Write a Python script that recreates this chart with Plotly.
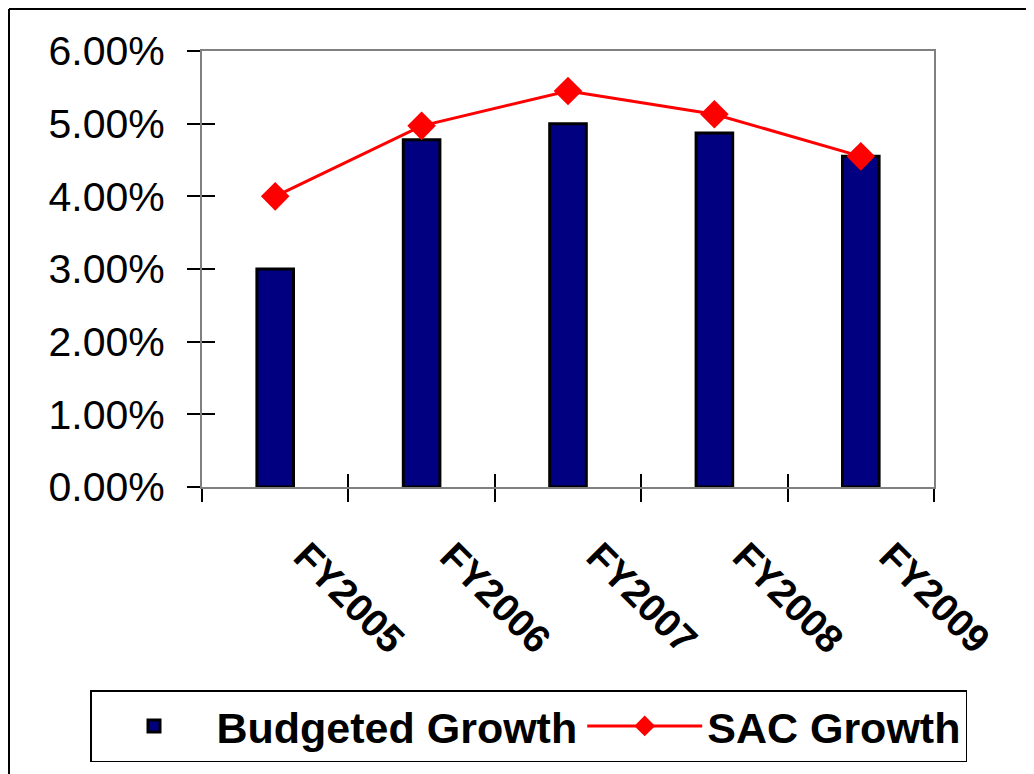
import plotly.graph_objects as go

categories = ["FY2005", "FY2006", "FY2007", "FY2008", "FY2009"]
budgeted_growth = [0.0300, 0.0478, 0.0500, 0.0487, 0.0455]
sac_growth = [0.0400, 0.0497, 0.0545, 0.0513, 0.0455]
y_ticks = [0.0, 0.01, 0.02, 0.03, 0.04, 0.05, 0.06]

FONT = "Liberation Sans, Arial, sans-serif"

fig = go.Figure()
fig.add_trace(go.Bar(
    x=categories, y=budgeted_growth, name="Budgeted Growth",
    marker=dict(color="#000080", line=dict(color="black", width=3)),
    width=0.25,
))
fig.add_trace(go.Scatter(
    x=categories, y=sac_growth, name="SAC Growth", mode="lines+markers",
    line=dict(color="#FF0000", width=3),
    marker=dict(symbol="diamond", size=22, color="#FF0000"),
))
# invisible helper trace for the inner half of the crossing tick marks
fig.add_trace(go.Scatter(
    x=categories, y=budgeted_growth, xaxis="x2", yaxis="y2",
    mode="lines", line=dict(width=0), opacity=0, showlegend=False,
    hoverinfo="skip",
))

W, H = 1026, 766
L, T, PW, PH = 194, 43, 732, 436

fig.update_layout(
    width=W, height=H,
    margin=dict(l=L, r=W - L - PW, t=T, b=H - T - PH, autoexpand=False),
    paper_bgcolor="white", plot_bgcolor="white",
    font=dict(family=FONT, color="black"),
    showlegend=True,
    legend=dict(
        orientation="h",
        x=(82 - L) / PW, xanchor="left", y=-(682 - (T + PH)) / PH, yanchor="top",
        font=dict(family=FONT, size=43, color="black", weight="bold"),
        bordercolor="black", borderwidth=1.5, bgcolor="white",
        itemwidth=115,
    ),
    xaxis=dict(
        type="category", showgrid=False, showline=True, mirror=True,
        linecolor="#808080", linewidth=2,
        ticks="outside", tickson="boundaries", ticklen=13, tickwidth=1.5,
        tickcolor="black", tickangle=45,
        tickfont=dict(family=FONT, size=39, color="black", weight="bold"),
        ticklabelstandoff=29, ticklabelshift=30,
        range=[-0.5, 4.5],
    ),
    yaxis=dict(
        range=[0, 0.06], tickvals=y_ticks, tickformat=".2%",
        showgrid=False, showline=True, mirror=True,
        linecolor="#808080", linewidth=2, zeroline=False,
        ticks="outside", ticklen=13, tickwidth=1.5, tickcolor="black",
        tickfont=dict(family=FONT, size=41, color="black"),
        ticklabelstandoff=14,
    ),
    xaxis2=dict(
        type="category", overlaying="x", matches="x", showgrid=False,
        showline=False, ticks="inside", tickson="boundaries", ticklen=13,
        tickwidth=1.5, tickcolor="black", showticklabels=False,
        range=[-0.5, 4.5],
    ),
    yaxis2=dict(
        overlaying="y", matches="y", range=[0, 0.06], tickvals=y_ticks,
        showgrid=False, showline=False, zeroline=False, ticks="inside",
        ticklen=13, tickwidth=1.5, tickcolor="black", showticklabels=False,
    ),
    shapes=[
        dict(type="line", xref="paper", yref="paper",
             x0=(1 - L) / PW, x1=1.2, y0=1 + (T - 1) / PH, y1=1 + (T - 1) / PH,
             line=dict(color="black", width=2)),
        dict(type="line", xref="paper", yref="paper",
             x0=(1 - L) / PW, x1=(1 - L) / PW, y0=1 + (T - 1) / PH, y1=-0.8,
             line=dict(color="black", width=2)),
    ],
)

fig.write_html("out.html")
